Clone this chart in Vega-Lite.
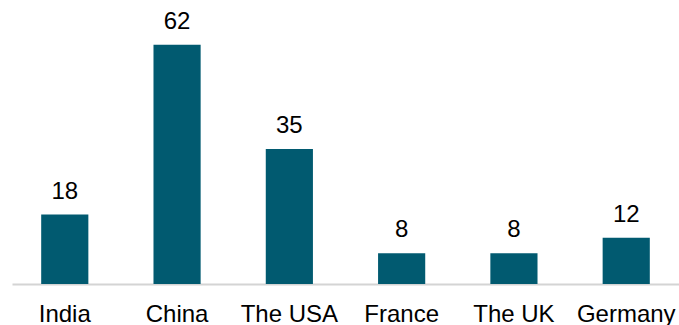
{
  "$schema": "https://vega.github.io/schema/vega-lite/v6.json",
  "autosize": {"type": "none"},
  "width": 667,
  "height": 270,
  "padding": {"left": 12, "top": 14, "right": 0, "bottom": 41},
  "background": "white",
  "config": {"view": {"stroke": null}, "font": "Liberation Sans"},
  "data": {"values": [
    {"country": "India", "value": 18},
    {"country": "China", "value": 62},
    {"country": "The USA", "value": 35},
    {"country": "France", "value": 8},
    {"country": "The UK", "value": 8},
    {"country": "Germany", "value": 12}
  ]},
  "encoding": {
    "x": {"field": "country", "type": "nominal", "sort": null,
      "scale": {"paddingInner": 0.58, "paddingOuter": 0.26},
      "axis": {"title": null, "labelAngle": 0, "ticks": false, "labelFontSize": 24, "labelColor": "#000000",
        "labelBaseline": "alphabetic", "labelPadding": 37, "domainColor": "#d4d4d4", "domainWidth": 2, "grid": false}},
    "y": {"field": "value", "type": "quantitative", "scale": {"domain": [0, 70]}, "axis": null}
  },
  "layer": [
    {"mark": {"type": "bar", "color": "#015a70"}},
    {"mark": {"type": "text", "baseline": "alphabetic", "dy": -16, "fontSize": 24, "color": "#000000"},
     "encoding": {"text": {"field": "value", "type": "quantitative"}}}
  ]
}
